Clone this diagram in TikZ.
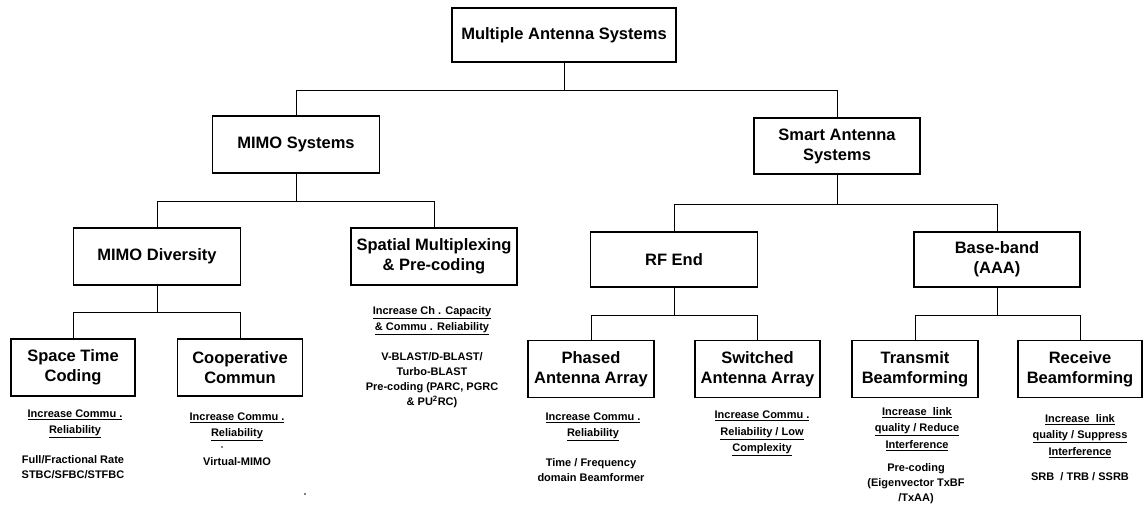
\documentclass[tikz,border=0pt]{standalone}
\usepackage{fontspec}
\setmainfont{Liberation Sans}
\newcommand\titlefont{\bfseries\fontsize{16.5}{20}\selectfont}
\newcommand\annfont{\bfseries\fontsize{11}{16.5}\selectfont}
\newcommand\annfontb{\bfseries\fontsize{11}{15}\selectfont}
\tikzset{
  box/.style={draw, line width=1.4pt, inner sep=0pt, align=center, font=\titlefont},
  conn/.style={line width=1pt},
  ann/.style={inner sep=0pt, align=center, font=\annfont},
  annb/.style={inner sep=0pt, align=center, font=\annfontb},
  speck/.style={fill=black, draw=none},
}
\begin{document}
\begin{tikzpicture}[x=1pt,y=-1pt]
\fill[white] (0,0) rectangle (1144,510);
\useasboundingbox (0,0) rectangle (1144,510);

% boxes
\node[box, minimum width=224pt, minimum height=54pt] (top) at (564,35) {Multiple Antenna Systems};
\node[box, minimum width=167pt, minimum height=57pt] (mimo) at (296,144.5) {MIMO Systems};
\node[box, minimum width=166pt, minimum height=56pt] (smart) at (837,146) {Smart Antenna\\Systems};
\node[box, minimum width=167pt, minimum height=57pt] (div) at (157,256.5) {MIMO Diversity};
\node[box, minimum width=166pt, minimum height=57pt] (spat) at (434,256.5) {Spatial Multiplexing\\\& Pre-coding};
\node[box, minimum width=167pt, minimum height=55pt] (rf) at (674,259.5) {RF End};
\node[box, minimum width=166pt, minimum height=55pt] (bb) at (997,259.5) {Base-band\\(AAA)};
\node[box, minimum width=124pt, minimum height=57pt] (stc) at (73,367.5) {Space Time\\Coding};
\node[box, minimum width=125pt, minimum height=57pt] (coop) at (240,367.5) {Cooperative\\Commun};
\node[box, minimum width=126pt, minimum height=57pt] (phased) at (591,369) {Phased\\Antenna Array};
\node[box, minimum width=125pt, minimum height=57pt] (switched) at (757.5,369) {Switched\\Antenna Array};
\node[box, minimum width=126pt, minimum height=57pt] (tx) at (915,369) {Transmit\\Beamforming};
\node[box, minimum width=124pt, minimum height=57pt] (rx) at (1080,369) {Receive\\Beamforming};

% connectors
\draw[conn] (top.south) -- ++(0,28) coordinate (j0) -| (mimo.north);
\draw[conn] (j0) -| (smart.north);
\draw[conn] (mimo.south) -- ++(0,28) coordinate (j1) -| (div.north);
\draw[conn] (j1) -| (spat.north);
\draw[conn] (smart.south) -- ++(0,30) coordinate (j2) -| (rf.north);
\draw[conn] (j2) -| (bb.north);
\draw[conn] (div.south) -- ++(0,27) coordinate (j3) -| (stc.north);
\draw[conn] (j3) -| (coop.north);
\draw[conn] (rf.south) -- ++(0,28) coordinate (j4) -| (phased.north);
\draw[conn] (j4) -| (switched.north);
\draw[conn] (bb.south) -- ++(0,28) coordinate (j5) -| (tx.north);
\draw[conn] (j5) -| (rx.north);

% annotations
\node[ann] (a1) at (75,424) {\underline{Increase Commu .}\\\underline{Reliability}};
\node[annb] (a2) at (73,467.5) {Full/Fractional Rate\\STBC/SFBC/STFBC};
\node[ann] (b1) at (237,427) {\underline{Increase Commu .}\\\underline{Reliability}};
\node[annb] (b2) at (237,462) {Virtual-MIMO};
\node[ann] (c1) at (432,320.5) {\underline{Increase Ch . Capacity}\\\underline{\& Commu . Reliability}};
\node[annb] (c2) at (432,380.5) {V-BLAST/D-BLAST/\\Turbo-BLAST\\Pre-coding (PARC, PGRC\\\& PU\textsuperscript{2}RC)};
\node[ann] (d1) at (593,427) {\underline{Increase Commu .}\\\underline{Reliability}};
\node[annb] (d2) at (591,470) {Time / Frequency\\domain Beamformer};
\node[ann] (e1) at (762,433.5) {\underline{Increase Commu .}\\\underline{Reliability / Low}\\\underline{Complexity}};
\node[ann] (f1) at (917,429) {\underline{Increase\ \ link}\\\underline{quality / Reduce}\\\underline{Interference}};
\node[annb] (f2) at (916,484) {Pre-coding\\(Eigenvector TxBF\\/TxAA)};
\node[ann] (g1) at (1080,436) {\underline{Increase\ \ link}\\\underline{quality / Suppress}\\\underline{Interference}};
\node[annb] (g2) at (1080,477) {SRB\ \ / TRB / SSRB};

% specks
\fill[speck] (222,447) circle (0.8);
\fill[speck] (305,494) circle (0.8);
\end{tikzpicture}
\end{document}
